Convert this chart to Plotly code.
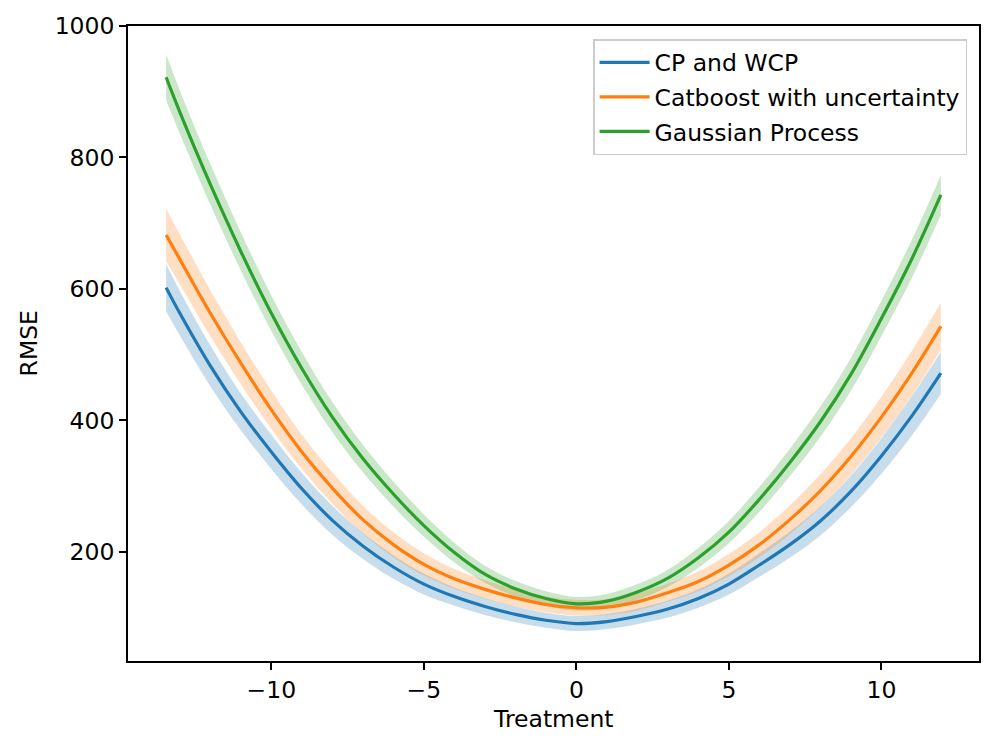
import plotly.graph_objects as go

# Treatment values (x)
treatment = [-13.45, -13, -12, -11, -10, -9, -8, -7, -6, -5, -4, -3, -2, -1,
             0, 1, 2, 3, 4, 5, 6, 7, 8, 9, 10, 11, 11.95]

# RMSE means
cp_wcp = [602, 563, 483, 413, 352, 296, 248, 209, 177, 151, 132, 117, 105, 96,
          91, 94, 102, 113, 129, 151, 180, 211, 247, 292, 346, 407, 472]
catboost = [682, 645, 563, 487, 416, 352, 297, 249, 211, 181, 159, 143, 130, 120,
            115, 116, 124, 138, 155, 180, 211, 249, 293, 345, 405, 472, 543]
gauss = [922, 869, 759, 657, 563, 479, 405, 342, 288, 240, 199, 166, 144, 129,
         121, 125, 139, 160, 191, 230, 280, 336, 398, 470, 555, 646, 743]

# Half-widths of the uncertainty bands
cp_wcp_hw = [36, 34, 31, 28, 26, 24, 22, 20, 18, 16, 14, 13, 12, 11.5,
             11.5, 11.5, 12, 13, 14, 16, 18, 20, 22, 24, 27, 30, 32]
catboost_hw = [40, 38, 35, 32, 29, 26, 24, 21, 19, 17, 15, 14, 13, 12,
               12, 12, 13, 14, 15, 17, 19, 22, 25, 28, 31, 34, 36]
gauss_hw = [35, 33, 31, 29, 27, 25, 23, 21, 19, 17, 15, 13, 12, 11,
            10.5, 11, 12, 13, 15, 17, 19, 21, 23, 25, 27, 29, 30]

series_names = ["CP and WCP", "Catboost with uncertainty", "Gaussian Process"]
series_means = [cp_wcp, catboost, gauss]
series_hw = [cp_wcp_hw, catboost_hw, gauss_hw]
line_colors = ["#1f77b4", "#ff7f0e", "#2ca02c"]
fill_colors = ["rgba(31,119,180,0.25)", "rgba(255,127,14,0.25)", "rgba(44,160,44,0.25)"]

x_ticks = [-10, -5, 0, 5, 10]
x_ticktext = ["\u221210", "\u22125", "0", "5", "10"]
y_ticks = [200, 400, 600, 800, 1000]

FONT = "DejaVu Sans"
FS = 23.5

fig = go.Figure()

# bands first (below lines)
for name, m, hw, fc in zip(series_names, series_means, series_hw, fill_colors):
    upper = [a + b for a, b in zip(m, hw)]
    lower = [a - b for a, b in zip(m, hw)]
    fig.add_trace(go.Scatter(
        x=treatment, y=upper, mode="lines",
        line=dict(width=0, shape="spline", color=fc),
        hoverinfo="skip", showlegend=False,
    ))
    fig.add_trace(go.Scatter(
        x=treatment, y=lower, mode="lines", fill="tonexty", fillcolor=fc,
        line=dict(width=0, shape="spline", color=fc),
        hoverinfo="skip", showlegend=False,
    ))

for name, m, lc in zip(series_names, series_means, line_colors):
    fig.add_trace(go.Scatter(
        x=treatment, y=m, mode="lines", name=name, legendgroup=name,
        line=dict(color=lc, width=3.2, shape="spline"),
    ))

axis_common = dict(
    showline=True, linecolor="black", linewidth=1.7, mirror=True,
    ticks="outside", ticklen=7, tickwidth=1.7, tickcolor="black",
    showgrid=False, zeroline=False, automargin=False,
    tickfont=dict(family=FONT, size=FS, color="black"),
)

fig.update_layout(
    width=996, height=750,
    margin=dict(l=120, r=25, t=18, b=97),
    paper_bgcolor="white", plot_bgcolor="white",
    font=dict(family=FONT, size=FS, color="black"),
    xaxis=dict(range=[-14.7, 13.2], tickvals=x_ticks, ticktext=x_ticktext,
               **axis_common),
    yaxis=dict(range=[34, 1000], tickvals=y_ticks, **axis_common),
    legend=dict(x=0.986, y=0.9795, xanchor="right", yanchor="top",
                bgcolor="rgba(255,255,255,0.8)", bordercolor="#cccccc",
                borderwidth=1.5, traceorder="grouped", tracegroupgap=1,
                itemwidth=50,
                font=dict(family=FONT, size=FS, color="black")),
    showlegend=True,
    annotations=[
        dict(text="Treatment", xref="paper", yref="paper", x=0.5, y=-0.0913,
             xanchor="center", yanchor="middle", showarrow=False,
             font=dict(family=FONT, size=FS, color="black")),
        dict(text="RMSE", xref="paper", yref="paper", x=-0.1164, y=0.5,
             xanchor="center", yanchor="middle", textangle=-90, showarrow=False,
             font=dict(family=FONT, size=FS, color="black")),
    ],
)

fig.write_html("out.html")
